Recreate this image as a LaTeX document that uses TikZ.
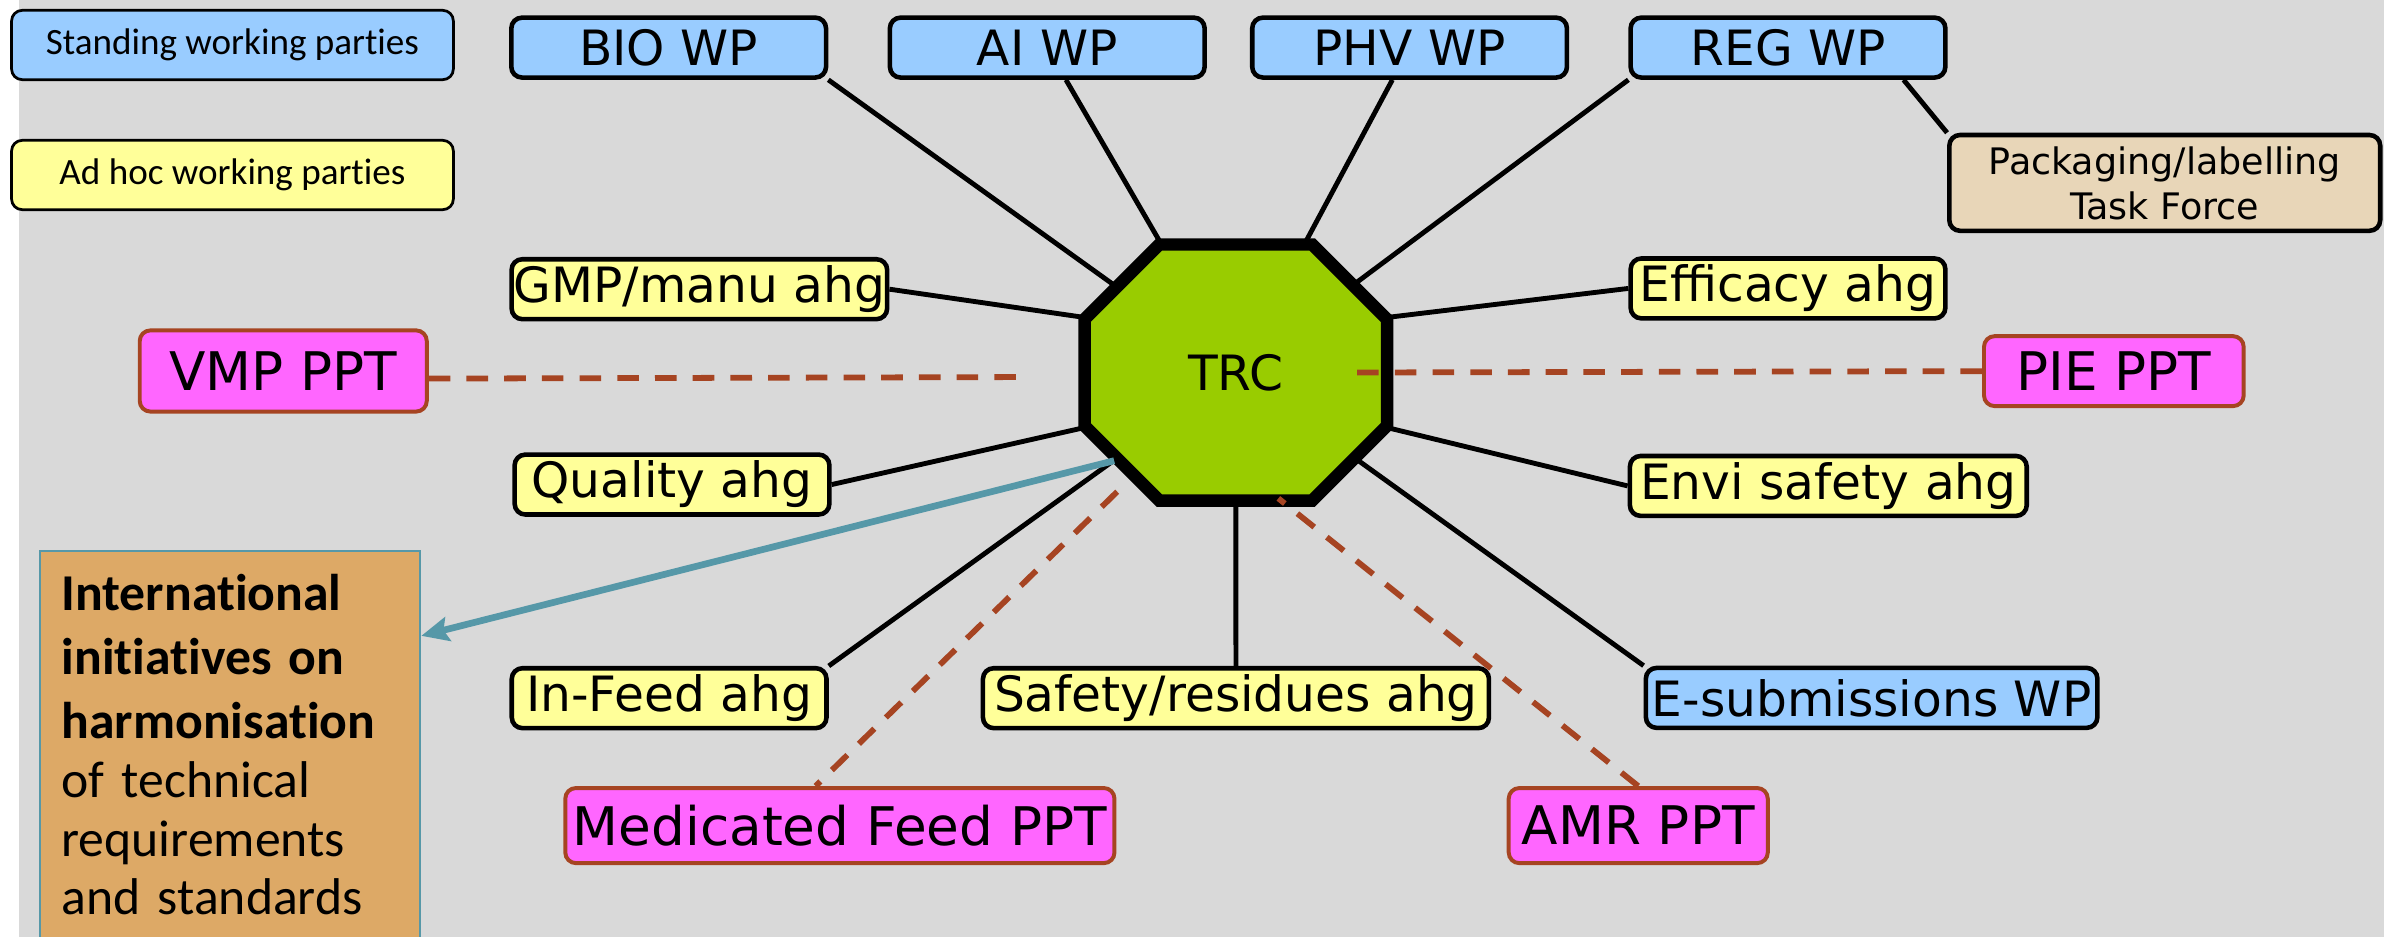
\documentclass[tikz,border=0pt]{standalone}
\usepackage{fontspec}
\setmainfont{DejaVu Sans}
\newfontfamily\calibri[Ligatures=NoCommon]{Carlito}
\usetikzlibrary{arrows.meta}
\definecolor{bggrey}{RGB}{217,217,217}
\definecolor{wpblue}{RGB}{153,204,255}
\definecolor{ahgyellow}{RGB}{255,255,153}
\definecolor{pptpink}{RGB}{255,102,255}
\definecolor{pptbrown}{RGB}{166,68,34}
\definecolor{trcgreen}{RGB}{153,204,0}
\definecolor{tfbeige}{RGB}{232,214,184}
\definecolor{intlorange}{RGB}{221,169,102}
\definecolor{intlteal}{RGB}{86,152,168}
\pgfdeclarelayer{back}
\pgfsetlayers{back,main}

\begin{document}
\begin{tikzpicture}[x=0.5pt,y=-0.5pt,
  box/.style={draw,line width=1.5pt,rounded corners=3.5pt,inner sep=0.5pt,minimum width=103.5pt,minimum height=19.7pt,font=\fontsize{16}{19}\selectfont},
  wp/.style={box,fill=wpblue},
  ahg/.style={box,fill=ahgyellow},
  tf/.style={box,fill=tfbeige,align=center,minimum width=141.7pt,minimum height=31.5pt,font=\fontsize{12}{14.8}\selectfont},
  ppt/.style={draw=pptbrown,line width=1.3pt,fill=pptpink,rounded corners=3.5pt,inner sep=0.5pt,minimum height=24.7pt,font=\fontsize{17.5}{21}\selectfont},
  keybox/.style={draw,line width=0.9pt,rounded corners=3.5pt,minimum width=145.3pt,minimum height=22.8pt,font=\calibri\fontsize{12.2}{14.6}\selectfont},
  hub/.style={minimum width=99.5pt,minimum height=84.2pt,inner sep=0pt,outer sep=0pt,font=\fontsize{16}{19}\selectfont},
  intl/.style={draw=intlteal,line width=0.6pt,fill=intlorange,anchor=north west,inner sep=7pt,text width=111pt,align=left,text height=12.5pt,text depth=140pt,font=\calibri\fontsize{17}{19.3}\selectfont},
  octagon/.style={draw,line width=4.1pt,fill=trcgreen,line join=miter},
  link/.style={line width=1.6pt},
  pptlink/.style={draw=pptbrown,line width=1.9pt,dash pattern=on 7.1pt off 5.3pt},
  harmlink/.style={draw=intlteal,line width=2.2pt,-{Stealth[length=9pt,width=8pt,inset=1.5pt]}}]
  \useasboundingbox (0,0) rectangle (1568,616);

  \node[keybox,fill=wpblue] (stand) at (152.9,29.6) {Standing working parties};
  \node[keybox,fill=ahgyellow] (adhoc) at (152.9,115.1) {Ad hoc working parties};

  \node[hub] (trc) at (812.8,245) {TRC};

  \node[wp] (bio) at (439.8,31.3) {BIO WP};
  \node[wp] (ai) at (688.8,31.3) {AI WP};
  \node[wp] (phv) at (927.1,31.3) {PHV WP};
  \node[wp] (reg) at (1176,31.3) {REG WP};
  \node[wp,minimum width=148.5pt] (esub) at (1231,459) {E-submissions WP};
  \node[tf] (pack) at (1423.8,120.3) {Packaging/labelling\\Task Force};

  \node[ahg,minimum width=123.5pt] (gmp) at (460,190.2) {GMP/manu ahg};
  \node[ahg] (eff) at (1176,189.7) {Efficacy ahg};
  \node[ahg] (qual) at (442,318.7) {Quality ahg};
  \node[ahg,minimum width=130.5pt] (envi) at (1202.5,319.6) {Envi safety ahg};
  \node[ahg] (infeed) at (440.1,459.2) {In-Feed ahg};
  \node[ahg,minimum width=166.4pt] (safety) at (812.9,459.2) {Safety/residues ahg};

  \node[ppt,minimum width=94.4pt,minimum height=26.7pt] (vmp) at (186.3,244) {VMP PPT};
  \node[ppt,minimum width=85.4pt,minimum height=23pt] (pie) at (1390.3,244.1) {PIE PPT};
  \node[ppt,minimum width=180.6pt] (med) at (552.4,543) {Medicated Feed PPT};
  \node[ppt,minimum width=85.2pt] (amr) at (1077.5,543) {AMR PPT};

  \node[intl] (intl) at (25.9,362) {\textbf{International}\\[1.8pt]\textbf{initiatives on}\\[1.8pt]\textbf{harmonisation}\\of technical\\requirements\\and standards};

  \begin{pgfonlayer}{back}
    \fill[bggrey] (12.5,0) rectangle (1568,616);
    \draw[link] (bio.south east) -- (trc.center);
    \draw[link] (ai) -- (trc.center);
    \draw[link] (phv) -- (trc.center);
    \draw[link] (reg.south west) -- (trc.center);
    \draw[link] ([xshift=-14.5pt]reg.south east) -- (pack.north west);
    \draw[link] (gmp.east) -- (trc.160);
    \draw[link] (eff.west) -- (trc.20);
    \draw[link] (qual.east) -- (trc.200);
    \draw[link] (envi.west) -- (trc.-20);
    \draw[link] (infeed.north east) -- (trc.center);
    \draw[link] (safety) -- (trc.center);
    \draw[link] (esub.north west) -- (trc.center);
    \draw[octagon] ([xshift=24.6pt]trc.north west) -- ([xshift=-24.6pt]trc.north east)
      -- ([yshift=-24.6pt]trc.north east) -- ([yshift=24.6pt]trc.south east)
      -- ([xshift=-24.6pt]trc.south east) -- ([xshift=24.6pt]trc.south west)
      -- ([yshift=24.6pt]trc.south west) -- ([yshift=-24.6pt]trc.north west) -- cycle;
  \end{pgfonlayer}

  \draw[pptlink] ([yshift=-2.5pt]vmp.east) -- ([xshift=-21.5pt,yshift=-1.5pt]trc.west);
  \draw[pptlink] (pie.west) -- ([xshift=-11.7pt]trc.east);
  \draw[pptlink] ([shift={(-39pt,-39.2pt)}]trc.center) -- ([xshift=-8pt]med.north);
  \draw[pptlink] (amr.north) -- ([shift={(14pt,-41.4pt)}]trc.center);
  \draw[harmlink] ([shift={(-40pt,-29pt)}]trc.center) -- ([yshift=-28.1pt]intl.north east);
\end{tikzpicture}
\end{document}
